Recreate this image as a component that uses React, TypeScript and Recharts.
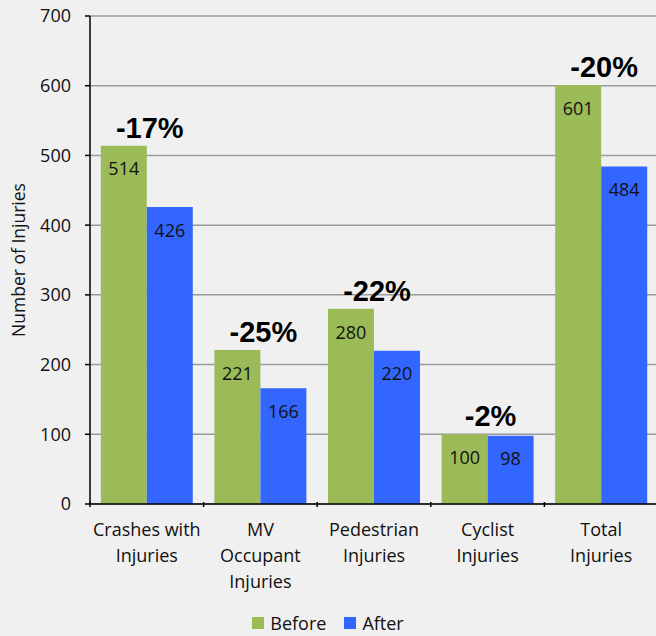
import {
  BarChart,
  Bar,
  XAxis,
  YAxis,
  CartesianGrid,
  Legend,
  LabelList,
} from 'recharts';

const categories = [
  ['Crashes with', 'Injuries'],
  ['MV', 'Occupant', 'Injuries'],
  ['Pedestrian', 'Injuries'],
  ['Cyclist', 'Injuries'],
  ['Total', 'Injuries'],
];
const before = [514, 221, 280, 100, 601];
const after = [426, 166, 220, 98, 484];
const changes = ['-17%', '-25%', '-22%', '-2%', '-20%'];
const yTicks = [0, 100, 200, 300, 400, 500, 600, 700];

const data = categories.map((c, i) => ({
  name: c.join(' '),
  lines: c,
  before: before[i],
  after: after[i],
  change: changes[i],
}));

const W = 660;
const H = 636;
const LEFT = 90;
const RIGHT = 2;
const BAND = (W - LEFT - RIGHT) / categories.length;

const GREEN = '#9bbb59';
const BLUE = '#3366ff';
const FONT = '"Open Sans", "Noto Sans", sans-serif';

// category label + boundary tick mark
function CategoryTick(props: any) {
  const { x, y, payload, index } = props;
  const lines = data[index]?.lines ?? [payload.value];
  const left = x - BAND / 2;
  return (
    <g>
      <line x1={left} x2={left} y1={y - 10} y2={y - 5} stroke="#000" strokeWidth={1.5} />
      <text x={x} y={y + 24} textAnchor="middle" fontSize={18} fontFamily={FONT} fill="#111">
        {lines.map((l: string, i: number) => (
          <tspan key={i} x={x} dy={i === 0 ? 0 : 26}>
            {l}
          </tspan>
        ))}
      </text>
    </g>
  );
}

// bold percent-change label above each pair
function ChangeLabel(props: any) {
  const { x, y, width, index } = props;
  return (
    <text
      x={x + width + 3}
      y={y - 8}
      textAnchor="middle"
      fontSize={29}
      fontWeight="bold"
      fontFamily='"Liberation Sans", Arial, sans-serif'
      fill="#000"
    >
      {changes[index]}
    </text>
  );
}

function LegendBox() {
  const items = [
    { label: 'Before', color: GREEN },
    { label: 'After', color: BLUE },
  ];
  return (
    <div style={{ display: 'flex', justifyContent: 'center', gap: 18, fontFamily: FONT, fontSize: 18 }}>
      {items.map((it) => (
        <div key={it.label} style={{ display: 'flex', alignItems: 'center', gap: 6 }}>
          <span style={{ width: 12, height: 12, background: it.color, display: 'inline-block' }} />
          <span style={{ color: '#111' }}>{it.label}</span>
        </div>
      ))}
    </div>
  );
}

export default function App() {
  return (
    <div
      style={{
        position: 'absolute',
        left: 0,
        top: 0,
        width: 656,
        height: 636,
        background: '#f0f0f0',
        overflow: 'hidden',
      }}
    >
      <BarChart
        width={W}
        height={H}
        data={data}
        margin={{ top: 16, right: RIGHT, left: 0, bottom: 0 }}
        barCategoryGap="9.5%"
        barGap={0}
      >
        <CartesianGrid vertical={false} stroke="#9a9a9a" strokeWidth={1.5} />
        <XAxis
          dataKey="name"
          height={108}
          axisLine={{ stroke: '#000', strokeWidth: 1.5 }}
          tickLine={false}
          interval={0}
          tick={<CategoryTick />}
        />
        <YAxis
          width={LEFT}
          domain={[0, 700]}
          ticks={yTicks}
          interval={0}
          axisLine={{ stroke: '#000', strokeWidth: 1.5 }}
          tickLine={{ stroke: '#000', strokeWidth: 1.5 }}
          tickSize={5}
          tickMargin={14}
          tick={{ fontSize: 18, fontFamily: FONT, fill: '#111' }}
          label={{
            value: 'Number of Injuries',
            angle: -90,
            position: 'insideLeft',
            dx: 14,
            style: { fontSize: 17.5, fontFamily: FONT, fill: '#111', textAnchor: 'middle' },
          }}
        />
        <Legend
          verticalAlign="bottom"
          content={<LegendBox />}
          wrapperStyle={{ left: 0, width: 656, top: 611 }}
        />
        <Bar dataKey="before" name="Before" fill={GREEN} isAnimationActive={false}>
          <LabelList dataKey="before" position="insideTop" offset={17} fontSize={18} fontFamily={FONT} fill="#111" />
          <LabelList dataKey="change" content={<ChangeLabel />} />
        </Bar>
        <Bar dataKey="after" name="After" fill={BLUE} isAnimationActive={false}>
          <LabelList dataKey="after" position="insideTop" offset={17} fontSize={18} fontFamily={FONT} fill="#111" />
        </Bar>
      </BarChart>
    </div>
  );
}
